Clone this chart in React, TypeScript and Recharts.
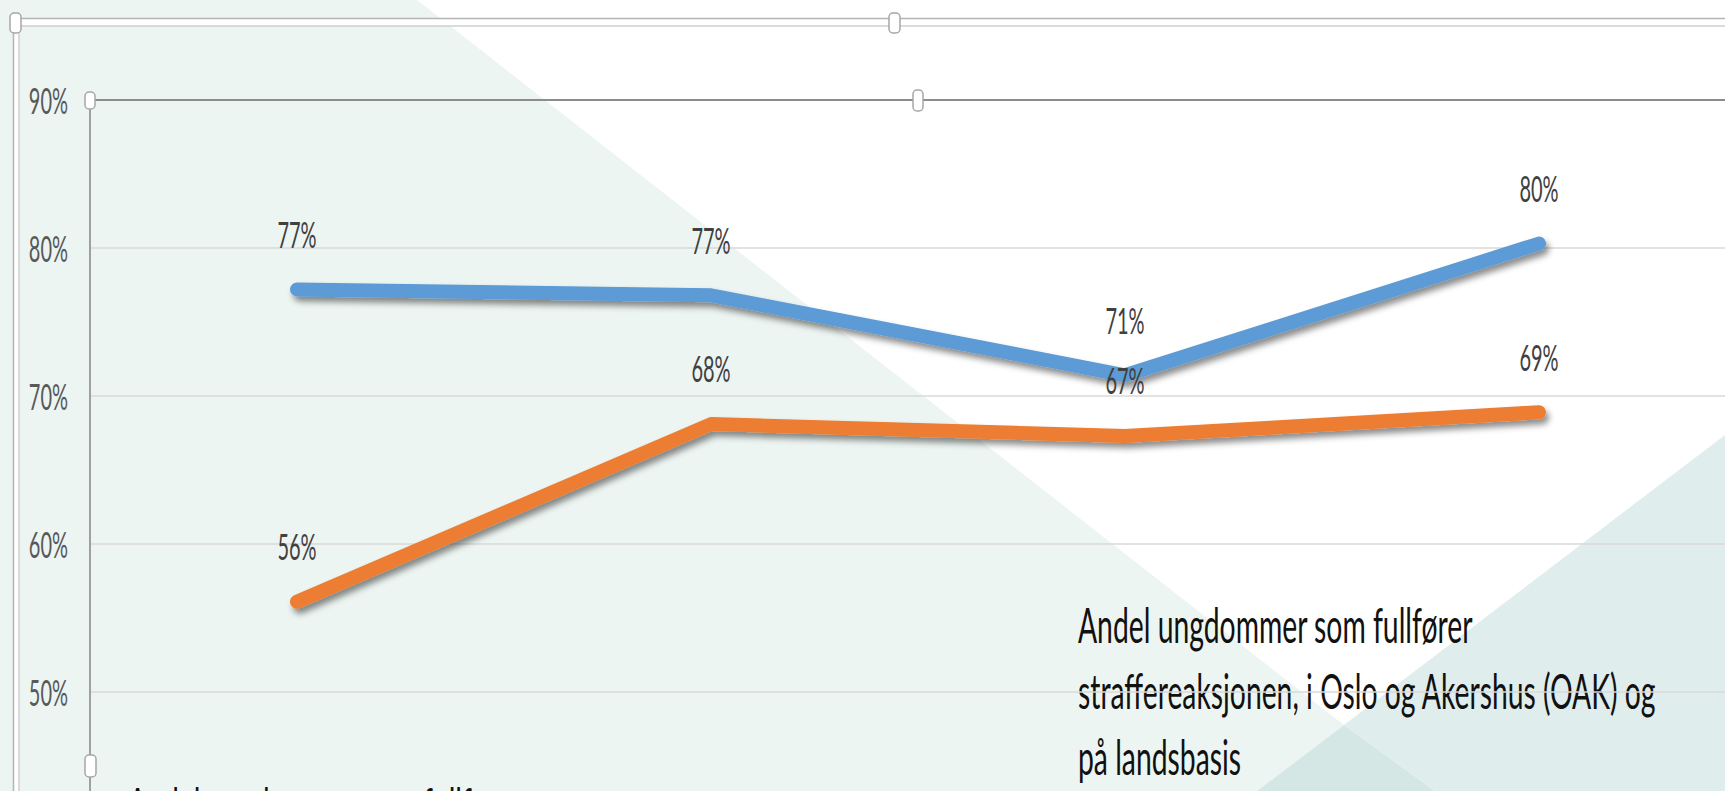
import { LineChart, Line, XAxis, YAxis, CartesianGrid, LabelList } from 'recharts';

const categories = ['P1', 'P2', 'P3', 'P4'];
const oakValues = [77.2, 76.8, 71.4, 80.3];
const landValues = [56.1, 68.1, 67.3, 68.9];
const yTicks = [0, 10, 20, 30, 40, 50, 60, 70, 80, 90];
const titleLines = [
  'Andel ungdommer som fullfører',
  'straffereaksjonen, i Oslo og Akershus (OAK) og',
  'på landsbasis'
];

const data = categories.map((c, i) => ({ period: c, oak: oakValues[i], land: landValues[i] }));

const FONT = 'Lato, "Open Sans", sans-serif';
const NUM_SX = 0.54;   // the source image is squeezed horizontally
const TITLE_SX = 0.59;

function YTick(props: any) {
  const { x, y, payload } = props;
  return (
    <text
      transform={`translate(${x},${y}) scale(${NUM_SX},1)`}
      textAnchor="end"
      dominantBaseline="central"
      fontSize={37}
      fontFamily={FONT}
      fill="#595959"
    >
      {payload.value}%
    </text>
  );
}

function PointLabel(props: any) {
  const { x, y, value } = props;
  return (
    <text
      transform={`translate(${x},${y - 56}) scale(${NUM_SX},1)`}
      textAnchor="middle"
      dominantBaseline="central"
      fontSize={37}
      fontFamily={FONT}
      fill="#404040"
    >
      {Math.round(value)}%
    </text>
  );
}

function Handle({ x, y, w, h }: { x: number; y: number; w: number; h: number }) {
  return <rect x={x} y={y} width={w} height={h} rx={4} fill="#fff" stroke="#a6a6a6" strokeWidth={1.5} />;
}

export default function App() {
  return (
    <div style={{ position: 'absolute', left: 0, top: 0, width: 1725, height: 791, overflow: 'hidden', background: '#fff' }}>
      {/* slide background */}
      <svg width={1725} height={791} style={{ position: 'absolute', left: 0, top: 0 }}>
        <polygon points="0,0 417,0 1344,725 1257,791 0,791" fill="#edf5f2" />
        <polygon points="1344,725 1257,791 1435,791" fill="#d5e7e4" />
        <polygon points="1725,435 1344,725 1435,791 1725,791" fill="#dfeded" />
        <g fontFamily={FONT} fontSize={48} fill="#111">
          {titleLines.map((t, i) => (
            <text key={i} transform={`translate(1078,${643 + i * 66}) scale(${TITLE_SX},1)`}>{t}</text>
          ))}
          <text transform={`translate(128,823) scale(${TITLE_SX},1)`}>{titleLines[0]}</text>
        </g>
      </svg>

      <div style={{ position: 'absolute', left: 0, top: 0 }}>
        <LineChart width={1800} height={1452} data={data} margin={{ top: 100, right: 54, left: 0, bottom: 20 }}>
          <defs>
            <filter id="lineShadow" filterUnits="userSpaceOnUse" x={0} y={0} width={1800} height={1452}>
              <feDropShadow dx={3} dy={5} stdDeviation={3} floodColor="#000" floodOpacity={0.45} />
            </filter>
          </defs>
          <CartesianGrid vertical={false} stroke="#d9d9d9" strokeWidth={1.5} />
          <XAxis dataKey="period" hide padding={{ left: 207, right: 207 }} />
          <YAxis
            width={90}
            domain={[0, 90]}
            ticks={yTicks}
            interval={0}
            tickSize={0}
            tickMargin={22}
            tick={<YTick />}
            axisLine={{ stroke: '#a0a0a0', strokeWidth: 2 }}
            tickLine={false}
          />
          <Line
            type="linear"
            dataKey="oak"
            stroke="#5b9bd5"
            strokeWidth={14}
            strokeLinecap="round"
            strokeLinejoin="round"
            filter="url(#lineShadow)"
            dot={false}
            activeDot={false}
            isAnimationActive={false}
          >
            <LabelList dataKey="oak" content={<PointLabel />} />
          </Line>
          <Line
            type="linear"
            dataKey="land"
            stroke="#ed7d31"
            strokeWidth={14}
            strokeLinecap="round"
            strokeLinejoin="round"
            filter="url(#lineShadow)"
            dot={false}
            activeDot={false}
            isAnimationActive={false}
          >
            <LabelList dataKey="land" content={<PointLabel />} />
          </Line>
        </LineChart>
      </div>

      {/* selection frames */}
      <svg width={1725} height={791} style={{ position: 'absolute', left: 0, top: 0, pointerEvents: 'none' }}>
        <rect x={13} y={18} width={1725} height={8} fill="#fff" />
        <rect x={13} y={18} width={6} height={791} fill="#fff" />
        <line x1={13} y1={18.5} x2={1725} y2={18.5} stroke="#b4b4b4" strokeWidth={1.5} />
        <line x1={19} y1={26} x2={1725} y2={26} stroke="#cfcfcf" strokeWidth={1.5} />
        <line x1={13.5} y1={18} x2={13.5} y2={791} stroke="#b4b4b4" strokeWidth={1.5} />
        <line x1={19} y1={26} x2={19} y2={791} stroke="#cfcfcf" strokeWidth={1.5} />
        <line x1={90} y1={100} x2={1725} y2={100} stroke="#8c8c8c" strokeWidth={2} />
        <Handle x={10} y={13} w={11} h={20} />
        <Handle x={889} y={13} w={11} h={20} />
        <Handle x={85} y={92} w={10} h={17} />
        <Handle x={913} y={90} w={10} h={21} />
        <Handle x={85} y={755} w={11} h={22} />
      </svg>
    </div>
  );
}
